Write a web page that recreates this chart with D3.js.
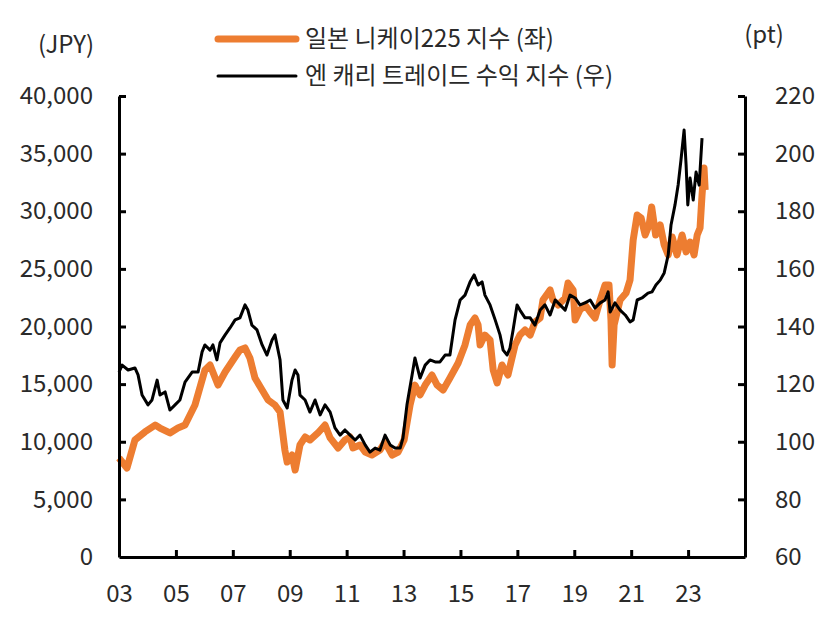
<!DOCTYPE html>
<html>
<head>
<meta charset="utf-8">
<script src="https://cdn.jsdelivr.net/npm/d3@7"></script>
<style>
  html, body { margin: 0; padding: 0; background: #fff; }
  svg { display: block; font-family: "Noto Sans CJK KR", "Noto Sans", sans-serif; }
</style>
</head>
<body>
<svg id="chart" width="828" height="621"></svg>
<script>
// ---- Data ----
const nikkeiYears = [2003.00,2003.28,2003.56,2003.91,2004.27,2004.44,2004.79,2005.07,2005.32,2005.67,2006.02,2006.20,2006.48,2006.73,2007.08,2007.25,2007.43,2007.60,2007.78,2008.03,2008.24,2008.48,2008.66,2008.83,2008.91,2009.08,2009.19,2009.36,2009.54,2009.71,2009.99,2010.24,2010.42,2010.70,2010.94,2011.12,2011.22,2011.47,2011.65,2011.89,2012.17,2012.35,2012.60,2012.81,2013.02,2013.23,2013.40,2013.58,2013.76,2014.00,2014.18,2014.39,2014.63,2014.92,2015.16,2015.34,2015.51,2015.62,2015.69,2015.86,2016.04,2016.15,2016.29,2016.46,2016.67,2016.92,2017.09,2017.27,2017.45,2017.62,2017.80,2017.90,2018.15,2018.25,2018.43,2018.68,2018.78,2018.96,2019.03,2019.20,2019.38,2019.56,2019.73,2019.91,2020.08,2020.22,2020.29,2020.33,2020.40,2020.61,2020.82,2020.96,2021.07,2021.21,2021.35,2021.49,2021.63,2021.72,2021.86,2022.02,2022.16,2022.30,2022.44,2022.61,2022.79,2022.93,2023.07,2023.21,2023.32,2023.42,2023.49,2023.56,2023.60];
const nikkeiValues = [8590,7720,10150,10850,11450,11190,10760,11190,11450,13190,16230,16660,14920,16050,17350,17960,18140,17270,15530,14490,13620,13190,12580,9280,8240,8850,7550,9720,10410,10150,10760,11450,10330,9460,10150,10410,9460,9720,9110,8850,9280,9980,8850,9110,10150,13190,14920,14060,14920,15790,14920,14490,15530,16830,18400,20130,20740,20130,18400,19260,18830,16230,15100,16660,15790,18400,19260,19700,19260,20390,20740,22300,23170,22300,21870,22470,23770,23170,20560,21430,21870,21260,20740,22300,23600,23600,20560,16660,20130,22300,22900,24040,27510,29680,29410,27940,28810,30370,27940,28810,27070,26210,27770,26210,27940,26470,27330,26210,27940,28550,31410,33750,31840];

const carryYears = [2003.00,2003.11,2003.32,2003.56,2003.67,2003.81,2004.02,2004.16,2004.34,2004.44,2004.62,2004.79,2004.97,2005.14,2005.32,2005.57,2005.78,2005.92,2006.02,2006.20,2006.30,2006.44,2006.55,2006.73,2006.90,2007.08,2007.25,2007.43,2007.53,2007.67,2007.85,2008.03,2008.20,2008.38,2008.48,2008.66,2008.76,2008.91,2009.08,2009.19,2009.29,2009.36,2009.54,2009.71,2009.89,2010.07,2010.24,2010.42,2010.59,2010.77,2010.94,2011.12,2011.30,2011.47,2011.65,2011.82,2012.00,2012.17,2012.35,2012.53,2012.70,2012.88,2012.98,2013.12,2013.30,2013.40,2013.58,2013.76,2013.93,2014.11,2014.28,2014.46,2014.63,2014.81,2014.99,2015.16,2015.34,2015.48,2015.62,2015.76,2015.86,2016.04,2016.22,2016.39,2016.50,2016.64,2016.74,2016.85,2016.99,2017.09,2017.27,2017.45,2017.62,2017.80,2017.97,2018.15,2018.33,2018.50,2018.68,2018.85,2019.03,2019.20,2019.38,2019.56,2019.73,2019.91,2020.08,2020.19,2020.26,2020.43,2020.61,2020.79,2020.96,2021.07,2021.21,2021.38,2021.59,2021.73,2021.87,2022.02,2022.16,2022.30,2022.40,2022.54,2022.65,2022.75,2022.86,2022.93,2022.99,2023.07,2023.18,2023.28,2023.39,2023.49];
const carryValues = [124.2,126.6,124.9,125.6,123.2,116.2,112.8,114.5,121.4,116.2,117.3,111.0,112.8,114.5,120.7,124.2,124.2,131.2,133.6,131.8,133.6,128.4,134.3,137.1,139.5,142.3,143.0,147.5,145.7,140.5,138.8,133.6,130.1,135.3,137.1,128.4,114.5,111.7,121.4,124.9,123.2,116.2,114.5,110.3,114.5,109.3,112.8,110.3,104.8,102.3,104.1,102.3,100.6,102.3,98.9,96.4,97.8,97.1,102.3,98.9,97.8,97.8,101.3,112.8,123.2,129.1,122.1,126.6,128.4,127.7,127.7,130.1,130.1,142.3,149.2,150.9,155.5,157.9,154.4,155.5,150.9,147.5,142.3,137.1,131.8,130.1,132.5,138.8,147.5,145.7,143.0,143.0,140.5,145.7,147.5,144.0,149.2,147.5,145.7,150.9,149.9,147.5,148.2,149.2,146.4,148.2,149.2,152.0,145.0,148.2,145.7,144.0,141.6,142.3,149.2,149.9,151.6,152.0,154.4,156.1,158.6,164.8,175.2,182.2,189.1,197.8,208.2,196.1,182.2,191.5,183.9,193.6,189.1,205.4];

const xTickYears = [2003,2005,2007,2009,2011,2013,2015,2017,2019,2021,2023];
const leftTicks = [0,5000,10000,15000,20000,25000,30000,35000,40000];
const rightTicks = [60,80,100,120,140,160,180,200,220];
const legendLabels = ["일본 니케이225 지수 (좌)", "엔 캐리 트레이드 수익 지수 (우)"];
const leftUnit = "(JPY)";
const rightUnit = "(pt)";

// ---- Layout ----
const plot = { left: 119, right: 745, top: 96, bottom: 557 };
const orange = "#ED7D31";
const textColor = "#2a2a2a";

const svg = d3.select("#chart");

const x = d3.scaleLinear().domain([2003, 2025]).range([plot.left, plot.right]);
const yL = d3.scaleLinear().domain([0, 40000]).range([plot.bottom, plot.top]);
const yR = d3.scaleLinear().domain([60, 220]).range([plot.bottom, plot.top]);

const nikkei = nikkeiYears.map((t, i) => [t, nikkeiValues[i]]);
const carry = carryYears.map((t, i) => [t, carryValues[i]]);

svg.append("path")
  .datum(nikkei)
  .attr("fill", "none")
  .attr("stroke", orange)
  .attr("stroke-width", 7)
  .attr("stroke-linejoin", "round")
  .attr("d", d3.line().x(d => x(d[0])).y(d => yL(d[1])));

svg.append("path")
  .datum(carry)
  .attr("fill", "none")
  .attr("stroke", "#000")
  .attr("stroke-width", 3)
  .attr("stroke-linejoin", "round")
  .attr("d", d3.line().x(d => x(d[0])).y(d => yR(d[1])));

function styleAxis(g) {
  g.select(".domain").attr("stroke", "#000").attr("stroke-width", 3);
  g.selectAll(".tick line").attr("stroke", "#000").attr("stroke-width", 3);
  g.selectAll(".tick text").attr("fill", textColor).attr("font-size", 24)
    .attr("font-family", '"Noto Sans CJK KR", "Noto Sans", sans-serif');
}

svg.append("g")
  .attr("transform", `translate(${plot.left},0)`)
  .call(d3.axisLeft(yL).tickValues(leftTicks).tickSizeInner(-7).tickSizeOuter(0)
    .tickPadding(26).tickFormat(d3.format(",")))
  .call(styleAxis)
  .call(g => g.select(".tick:first-of-type line").remove());

svg.append("g")
  .attr("transform", `translate(${plot.right},0)`)
  .call(d3.axisRight(yR).tickValues(rightTicks).tickSizeInner(-7).tickSizeOuter(0)
    .tickPadding(30).tickFormat(d3.format("d")))
  .call(styleAxis)
  .call(g => g.select(".tick:first-of-type line").remove());

svg.append("g")
  .attr("transform", `translate(0,${plot.bottom})`)
  .call(d3.axisBottom(x).tickValues(xTickYears).tickSizeInner(-7).tickSizeOuter(0)
    .tickPadding(28).tickFormat(d => d3.format("02d")(d % 100)))
  .call(styleAxis)
  .call(g => g.select(".tick:first-of-type line").remove());

svg.append("text").attr("x", 66).attr("y", 53).attr("text-anchor", "middle")
  .attr("font-size", 24).attr("fill", textColor).text(leftUnit);
svg.append("text").attr("x", 764).attr("y", 43).attr("text-anchor", "middle")
  .attr("font-size", 24).attr("fill", textColor).text(rightUnit);

const legend = svg.append("g");
const legendRows = [
  { label: legendLabels[0], color: orange, width: 7, y: 39 },
  { label: legendLabels[1], color: "#000", width: 3, y: 76 }
];
legendRows.forEach(r => {
  legend.append("line").attr("x1", 218).attr("x2", 296).attr("y1", r.y).attr("y2", r.y)
    .attr("stroke", r.color).attr("stroke-width", r.width).attr("stroke-linecap", "round");
  legend.append("text").attr("x", 305).attr("y", r.y).attr("dy", "0.35em")
    .attr("font-size", 24).attr("fill", textColor).text(r.label);
});
</script>
</body>
</html>
